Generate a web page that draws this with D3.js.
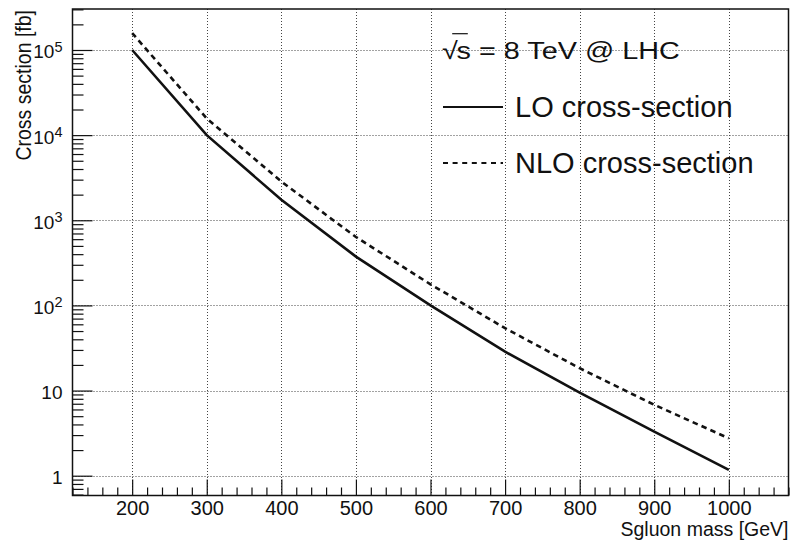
<!DOCTYPE html>
<html>
<head>
<meta charset="utf-8">
<script src="https://cdn.jsdelivr.net/npm/d3@7"></script>
<style>
  html, body { margin: 0; padding: 0; background: #fff; }
  svg { display: block; font-family: "Liberation Sans", Arial, Helvetica, sans-serif; }
</style>
</head>
<body>
<svg id="chart" width="790" height="543"></svg>
<script>
// ---- data ----
const mass = [200, 300, 400, 500, 600, 700, 800, 900, 1000];
const loXsec = [100000, 10000, 1740, 374, 100, 28.6, 9.45, 3.29, 1.17];
const nloXsec = [158000, 15700, 2850, 636, 177, 54, 18.3, 6.8, 2.75];
const xMajorTicks = [200, 300, 400, 500, 600, 700, 800, 900, 1000];
const yMajorTicks = [1, 10, 100, 1000, 10000, 100000];
const yTickBase = ["1", "10", "10", "10", "10", "10"];
const yTickExp = ["", "", "2", "3", "4", "5"];
const legendLabels = ["LO cross-section", "NLO cross-section"];
const headerText = ["√", "s", " = 8 TeV @ LHC"];
const xTitle = "Sgluon mass [GeV]";
const yTitle = "Cross section [fb]";

// ---- layout ----
const L = 72.5, R = 788.5, T = 9, B = 495.5;
const svg = d3.select("#chart");

const x = d3.scaleLinear().domain([120, 1080]).range([L, R]);
const y = d3.scaleLog().domain([0.5854, 303000]).range([B, T]);

// minor ticks
const xMinor = d3.range(120, 1081, 20).filter(v => v % 100 !== 0);
const yMinor = [];
for (let e = -1; e <= 5; e++) {
  for (let m = 2; m <= 9; m++) {
    const v = m * Math.pow(10, e);
    if (v >= 0.5854 && v <= 303000) yMinor.push(v);
  }
}

// ---- grid ----
const grid = svg.append("g").attr("stroke", "#444").attr("stroke-width", 1)
  .attr("stroke-dasharray", "1,2");
grid.selectAll(".gx").data(xMajorTicks).enter().append("line")
  .attr("x1", d => Math.round(x(d)) + 0.5).attr("x2", d => Math.round(x(d)) + 0.5)
  .attr("y1", T).attr("y2", B);
grid.selectAll(".gy").data(yMajorTicks).enter().append("line")
  .attr("y1", d => Math.round(y(d)) + 0.5).attr("y2", d => Math.round(y(d)) + 0.5)
  .attr("x1", L).attr("x2", R);

// ---- axes ----
const xAxisMinor = d3.axisBottom(x).tickValues(xMinor).tickSize(-8).tickFormat("");
const xAxis = d3.axisBottom(x).tickValues(xMajorTicks).tickSize(-16).tickPadding(5)
  .tickFormat(d3.format("d"));
const yAxisMinor = d3.axisLeft(y).tickValues(yMinor).tickSize(-11).tickFormat("");
const yAxis = d3.axisLeft(y).tickValues(yMajorTicks).tickSize(-20).tickPadding(10)
  .tickFormat((d, i) => yTickBase[i]);

function styleAxis(g, size) {
  g.select(".domain").remove();
  g.selectAll("line").attr("stroke", "#111").attr("stroke-width", 1.2);
  g.selectAll("text").attr("fill", "#111").style("font-size", size + "px")
    .style("font-family", '"Liberation Sans", Arial, Helvetica, sans-serif');
}

svg.append("g").attr("transform", `translate(0,${B})`).call(xAxisMinor).call(styleAxis, 20);
svg.append("g").attr("transform", `translate(0,${B})`).call(xAxis).call(styleAxis, 20);
svg.append("g").attr("transform", `translate(${L},0)`).call(yAxisMinor).call(styleAxis, 19);
const yG = svg.append("g").attr("transform", `translate(${L},0)`).call(yAxis).call(styleAxis, 19);

// superscripts on y labels
yG.selectAll(".tick text").each(function(d, i) {
  const t = d3.select(this);
  t.text(null).attr("dy", "0.42em");
  t.append("tspan").text(yTickBase[i]);
  if (yTickExp[i]) {
    t.append("tspan").attr("dy", "-0.45em").style("font-size", "14.5px").text(yTickExp[i]);
  }
});

// ---- frame ----
svg.append("rect").attr("x", L).attr("y", T).attr("width", R - L).attr("height", B - T)
  .attr("fill", "none").attr("stroke", "#111").attr("stroke-width", 1.5);

// ---- curves ----
const lineGen = d3.line().x(d => x(d[0])).y(d => y(d[1]));
const loData = mass.map((m, i) => [m, loXsec[i]]);
const nloData = mass.map((m, i) => [m, nloXsec[i]]);
svg.append("path").datum(loData).attr("d", lineGen)
  .attr("fill", "none").attr("stroke", "#111").attr("stroke-width", 2.6);
svg.append("path").datum(nloData).attr("d", lineGen)
  .attr("fill", "none").attr("stroke", "#111").attr("stroke-width", 2.6)
  .attr("stroke-dasharray", "5.5,4.2");

// ---- axis titles ----
svg.append("text").attr("x", R).attr("y", 536).attr("text-anchor", "end")
  .attr("fill", "#111").style("font-size", "19.5px").text(xTitle);
svg.append("g").attr("transform", `translate(31,${T + 1}) scale(1.1,1)`)
  .append("text").attr("transform", "rotate(-90)")
  .attr("text-anchor", "end").attr("fill", "#111").style("font-size", "19.5px").text(yTitle);

// ---- legend ----
const hdr = svg.append("g").attr("transform", "translate(442,59.3) scale(1.2,1)");
const hdrText = hdr.append("text").attr("x", 0).attr("y", 0).attr("fill", "#111")
  .style("font-size", "24px");
hdrText.append("tspan").text(headerText[0]);
hdrText.append("tspan").attr("dx", "-1").text(headerText[1]);
hdrText.append("tspan").text(headerText[2]);
// overbar of the square root
hdr.append("line").attr("x1", 8.5).attr("x2", 21.5).attr("y1", -25.6).attr("y2", -25.6)
  .attr("stroke", "#111").attr("stroke-width", 1.2);

const legY = [107, 163];
const legStyles = [null, "5,4.6"];
legendLabels.forEach((lab, i) => {
  svg.append("line").attr("x1", 443).attr("x2", 503).attr("y1", legY[i]).attr("y2", legY[i])
    .attr("stroke", "#111").attr("stroke-width", 2)
    .attr("stroke-dasharray", legStyles[i]);
  svg.append("text").attr("x", 515).attr("y", legY[i] + 10.3).attr("fill", "#111")
    .style("font-size", "29px").text(lab);
});
</script>
</body>
</html>
